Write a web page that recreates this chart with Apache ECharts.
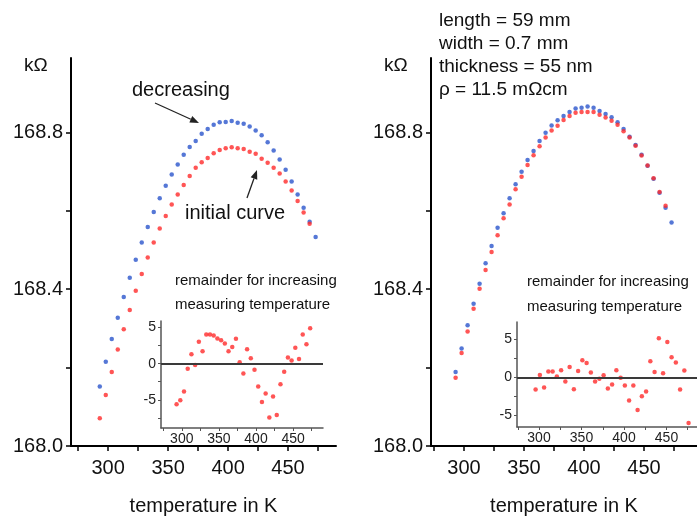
<!DOCTYPE html>
<html><head><meta charset="utf-8">
<script src="https://cdn.jsdelivr.net/npm/echarts@6/dist/echarts.min.js"></script>
<style>html,body{margin:0;padding:0;background:#fff}#c{width:697px;height:521px}</style>
</head><body><div id="c"></div>
<script>
// ---- data ----
const tempMain = [293,298,303,308,313,318,323,328,333,338,343,348,353,358,363,368,373,378,383,388,393,398,403,408,413,418,423,428,433,438,443,448,453,458,463,468,473];
const leftDecreasing = [168.152,168.215,168.273,168.327,168.380,168.429,168.475,168.519,168.559,168.597,168.632,168.664,168.693,168.718,168.743,168.763,168.778,168.797,168.809,168.820,168.826,168.827,168.829,168.825,168.822,168.815,168.805,168.793,168.775,168.754,168.731,168.705,168.675,168.642,168.608,168.572,168.533];
const leftInitial = [168.071,168.130,168.189,168.246,168.298,168.347,168.396,168.439,168.481,168.519,168.555,168.587,168.616,168.642,168.666,168.689,168.710,168.724,168.735,168.747,168.755,168.760,168.762,168.760,168.758,168.751,168.746,168.733,168.723,168.710,168.695,168.675,168.652,168.625,168.596,168.567];
const rightDecreasing = [168.189,168.249,168.308,168.363,168.414,168.466,168.510,168.557,168.594,168.632,168.668,168.700,168.730,168.753,168.778,168.799,168.818,168.831,168.842,168.852,168.861,168.863,168.866,168.863,168.855,168.847,168.839,168.826,168.809,168.789,168.768,168.743,168.715,168.682,168.646,168.608,168.570];
const rightInitial = [168.174,168.237,168.292,168.350,168.401,168.449,168.495,168.538,168.581,168.616,168.655,168.687,168.717,168.742,168.765,168.787,168.805,168.817,168.832,168.842,168.850,168.852,168.852,168.852,168.845,168.838,168.830,168.820,168.803,168.787,168.766,168.741,168.716,168.683,168.648,168.613];
const tempInsetLeft = [293,298,303,308,313,318,323,328,333,338,343,348,353,358,363,368,373,378,383,388,393,398,403,408,413,418,423,428,433,438,443,448,453,458,463,468,473];
const remainderLeft = [-5.63,-5.07,-3.86,-0.70,1.30,-0.19,3.02,1.72,4.04,4.04,3.90,3.49,3.25,2.79,1.72,2.32,3.44,0.19,-1.35,2.00,0.74,-0.84,-3.16,-5.30,-4.14,-7.44,-4.56,-7.11,-2.84,-1.12,0.84,0.42,2.19,0.65,4.04,2.69,4.88];
const tempInsetRight = [296,301,306,311,316,321,326,331,336,341,346,351,356,361,366,371,376,381,386,391,396,401,406,411,416,421,426,431,436,441,446,451,456,461,466,471,476];
const remainderRight = [-1.57,0.35,-1.31,0.79,0.79,0.13,0.96,-0.52,1.40,-1.53,0.87,2.27,1.92,0.66,-0.52,-0.17,0.31,-1.44,-0.92,0.96,-0.04,-1.05,-3.01,-1.05,-4.28,-2.45,-1.83,2.14,0.74,5.16,0.57,4.67,2.66,1.97,-1.57,0.92,-5.98];
const mainYTicks = [168.0,168.2,168.4,168.6,168.8];
const mainYLabels = [168.0,168.4,168.8];
const mainXTicks = [275,300,325,350,375,400,425,450,475];
const mainXLabels = [300,350,400,450];
const insetYTicks = [-7.5,-5,-2.5,0,2.5,5];
const insetYLabels = [-5,0,5];
const insetXTicks = [275,300,325,350,375,400,425,450,475];
const insetXLabels = [300,350,400,450];
const rightInsetText = ['length = 59 mm','width = 0.7 mm','thickness = 55 nm','\u03c1 = 11.5 m\u03a9cm'];

// ---- chart ----
const FONT = '"Liberation Sans", Arial, sans-serif';
const BLUE = '#2a55cc', RED = '#ff2a2a';
const pairs = (xs, ys) => ys.map((v, i) => [xs[i], v]);

function mainX(gi, min, max) {
  return {
    type: 'value', gridIndex: gi, min, max, position: 'bottom',
    axisLine: { show: true, onZero: false, lineStyle: { color: '#000', width: 2 } },
    axisTick: { show: true, inside: false, length: 5, customValues: mainXTicks, lineStyle: { color: '#000', width: 1.5 } },
    axisLabel: { show: true, customValues: mainXLabels, margin: 12, color: '#111', fontSize: 20, fontFamily: FONT },
    splitLine: { show: false },
    name: 'temperature in K', nameLocation: 'middle', nameGap: 50,
    nameTextStyle: { color: '#111', fontSize: 20, fontFamily: FONT }
  };
}
function mainY(gi) {
  return {
    type: 'value', gridIndex: gi, min: 168.0, max: 168.99,
    axisLine: { show: true, onZero: false, lineStyle: { color: '#000', width: 2 } },
    axisTick: { show: true, inside: false, length: 5, customValues: mainYTicks, lineStyle: { color: '#000', width: 1.5 } },
    axisLabel: { show: true, customValues: mainYLabels, margin: 8, color: '#111', fontSize: 20, fontFamily: FONT,
      formatter: v => Number(v).toFixed(1) },
    splitLine: { show: false }
  };
}
function insetX(gi, min, max) {
  return {
    type: 'value', gridIndex: gi, min, max, position: 'bottom',
    axisLine: { show: true, onZero: false, lineStyle: { color: '#555', width: 1.5 } },
    axisTick: { show: true, inside: false, length: 3, customValues: insetXTicks, lineStyle: { color: '#555', width: 1 } },
    axisLabel: { show: true, customValues: insetXLabels, margin: 4, color: '#222', fontSize: 14, fontFamily: FONT },
    splitLine: { show: false }
  };
}
function insetY(gi, min, max) {
  return {
    type: 'value', gridIndex: gi, min, max,
    axisLine: { show: true, onZero: false, lineStyle: { color: '#555', width: 1.5 } },
    axisTick: { show: true, inside: false, length: 3, customValues: insetYTicks, lineStyle: { color: '#555', width: 1 } },
    axisLabel: { show: true, customValues: insetYLabels, margin: 5, color: '#222', fontSize: 14, fontFamily: FONT },
    splitLine: { show: false }
  };
}
function dots(xi, data, color, size) {
  return { type: 'scatter', xAxisIndex: xi, yAxisIndex: xi, data, symbol: 'circle', symbolSize: size,
    itemStyle: { color }, silent: true };
}
function zeroLine() {
  return { silent: true, symbol: 'none', animation: false, label: { show: false },
    lineStyle: { color: '#3a3a3a', width: 2, type: 'solid' }, data: [{ yAxis: 0 }] };
}
function text(x, y, s, size) {
  return { type: 'text', x, y, style: { text: s, fill: '#111', font: size + 'px ' + FONT, verticalAlign: 'middle', align: 'left' } };
}
function arrow(x1, y1, x2, y2) {
  const a = Math.atan2(y2 - y1, x2 - x1), L = 9, W = 3.5;
  const bx = x2 - L * Math.cos(a), by = y2 - L * Math.sin(a);
  const nx = -Math.sin(a), ny = Math.cos(a);
  return [
    { type: 'line', shape: { x1, y1, x2: bx, y2: by }, style: { stroke: '#222', lineWidth: 1.3 } },
    { type: 'polygon', shape: { points: [[x2, y2], [bx + W * nx, by + W * ny], [bx - W * nx, by - W * ny]] }, style: { fill: '#222' } }
  ];
}

const leftInsetSeries = dots(2, pairs(tempInsetLeft, remainderLeft), RED, 4.5);
leftInsetSeries.markLine = zeroLine();
const rightInsetSeries = dots(3, pairs(tempInsetRight, remainderRight), RED, 4.5);
rightInsetSeries.markLine = zeroLine();

const option = {
  animation: false,
  backgroundColor: '#fff',
  grid: [
    { left: 71, top: 58, width: 265, height: 397 },
    { left: 431, top: 58, width: 266, height: 397 },
    { left: 161, top: 321, width: 162, height: 107 },
    { left: 517, top: 322, width: 180, height: 105 }
  ],
  xAxis: [ mainX(0, 269, 490), mainX(1, 272.5, 494.2), insetX(2, 272, 490.3), insetX(3, 274.1, 485.9) ],
  yAxis: [ mainY(0), mainY(1), insetY(2, -8.9, 5.9), insetY(3, -6.5, 7.3) ],
  series: [
    dots(0, pairs(tempMain, leftDecreasing), BLUE, 4.5),
    dots(0, pairs(tempMain, leftInitial), RED, 4.5),
    dots(1, pairs(tempMain, rightDecreasing), BLUE, 4.5),
    dots(1, pairs(tempMain, rightInitial), RED, 4.5),
    leftInsetSeries,
    rightInsetSeries
  ],
  graphic: [
    text(24, 66, 'k\u03a9', 19),
    text(384, 66, 'k\u03a9', 19),
    text(132, 90, 'decreasing', 20),
    text(185, 213, 'initial curve', 20),
    ...arrow(155, 103, 199, 123),
    ...arrow(247, 198, 257, 170),
    text(439, 21, rightInsetText[0], 19),
    text(439, 44, rightInsetText[1], 19),
    text(439, 67, rightInsetText[2], 19),
    text(439, 90, rightInsetText[3], 19),
    text(175, 281, 'remainder for increasing', 15),
    text(175, 305, 'measuring temperature', 15),
    text(527, 282, 'remainder for increasing', 15),
    text(527, 307, 'measuring temperature', 15)
  ]
};
echarts.init(document.getElementById('c'), null, { renderer: 'canvas' }).setOption(option);
</script>
</body></html>
